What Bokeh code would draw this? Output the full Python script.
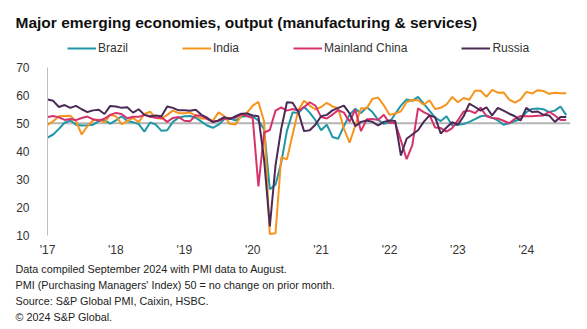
from bokeh.plotting import figure
from bokeh.models import Range1d, FixedTicker, Span, Title, Legend, LegendItem, ColumnDataSource
from bokeh.embed import file_html
from bokeh.resources import INLINE

# Monthly composite PMI, Jan 2017 .. Aug 2024 (92 months)
brazil = [44.9, 46.0, 48.0, 50.2, 51.0, 49.5, 49.2, 49.3, 49.5, 50.8, 51.1, 49.9,
          51.0, 52.5, 50.8, 50.4, 49.7, 47.0, 50.3, 49.5, 47.3, 47.5, 50.5, 52.0,
          52.5, 52.6, 52.0, 50.6, 49.2, 48.4, 49.5, 51.4, 51.8, 51.0, 52.3, 52.6,
          52.5, 50.9, 47.9, 26.5, 28.1, 35.9, 47.3, 53.9, 53.6, 55.9, 53.8, 51.1,
          47.5, 49.5, 45.1, 44.5, 49.0, 53.1, 55.2, 53.6, 55.7, 54.0, 51.2, 49.8,
          50.3, 53.4, 56.3, 58.5, 58.0, 59.4, 57.0, 54.5, 52.0, 50.8, 52.5, 49.2,
          49.5, 49.7, 50.5, 51.5, 52.5, 52.8, 52.0, 51.0, 49.5, 50.0, 50.8, 51.5,
          54.0, 55.1, 55.3, 55.0, 54.0, 54.5, 56.0, 52.9]
india = [49.4, 50.7, 52.5, 52.6, 52.7, 50.7, 46.0, 49.0, 51.1, 51.3, 50.3, 53.0,
         52.5, 49.7, 50.8, 51.9, 50.4, 53.3, 54.1, 51.9, 51.6, 53.0, 54.5, 53.6,
         53.6, 53.8, 52.7, 51.7, 51.7, 50.8, 53.9, 52.6, 49.8, 49.6, 52.7, 53.7,
         56.3, 57.6, 50.6, 10.5, 10.8, 37.8, 37.2, 46.0, 54.6, 58.0, 56.3, 54.9,
         55.8, 57.3, 56.0, 55.4, 48.1, 43.1, 49.2, 55.4, 55.3, 58.7, 59.2, 56.4,
         53.0, 53.5, 54.3, 57.6, 58.3, 58.2, 56.6, 58.2, 55.1, 55.5, 56.7, 59.4,
         57.5, 59.0, 58.4, 61.6, 61.6, 59.4, 61.9, 60.9, 61.0, 58.4, 57.4, 58.5,
         61.2, 60.6, 61.8, 61.5, 60.5, 60.9, 60.7, 60.7]
china = [52.2, 52.6, 52.1, 51.2, 51.5, 51.1, 51.9, 52.4, 51.4, 51.0, 51.6, 53.0,
         53.7, 53.3, 51.8, 52.3, 52.3, 53.0, 52.3, 52.0, 52.1, 50.5, 51.9, 52.2,
         50.9, 50.7, 52.9, 52.7, 51.5, 50.6, 50.9, 51.6, 51.9, 52.0, 53.2, 52.6,
         51.9, 27.5, 46.7, 47.6, 54.5, 55.7, 54.5, 55.1, 54.5, 55.7, 57.5, 56.3,
         52.2, 51.7, 53.1, 54.7, 53.8, 50.6, 54.9, 47.2, 51.4, 51.5, 51.2, 53.0,
         50.1, 50.1, 43.9, 37.2, 42.2, 55.3, 54.0, 53.0, 48.5, 48.3, 47.0, 48.3,
         51.1, 54.2, 54.5, 53.6, 55.6, 52.5, 51.9, 51.7, 50.9, 50.0, 51.6, 52.6,
         52.5, 52.5, 52.7, 52.8, 54.1, 52.8, 51.2, 51.2]
russia = [58.5, 58.0, 55.8, 56.5, 55.5, 56.2, 55.0, 54.0, 54.6, 54.8, 53.3, 56.2,
          56.0, 55.5, 55.7, 53.8, 55.0, 53.0, 52.5, 52.8, 52.5, 56.0, 55.5, 54.6,
          54.6, 54.5, 54.8, 53.0, 52.0, 50.4, 51.0, 52.2, 51.5, 52.5, 53.4, 53.5,
          52.8, 52.5, 37.0, 13.2, 35.0, 48.0, 57.5, 57.3, 54.0, 47.2, 47.5, 49.5,
          52.5, 53.0, 54.6, 55.5, 56.3, 53.5, 49.0, 50.5, 51.0, 50.5, 49.2, 50.5,
          51.0, 50.8, 38.5, 44.5, 46.0, 47.5, 50.5, 52.8, 52.2, 46.3, 48.5, 50.4,
          49.5, 52.5, 57.0, 55.8, 54.5, 55.7, 52.8, 55.5, 54.5, 53.4, 52.5, 51.0,
          55.5, 54.0, 54.2, 53.0, 52.8, 50.5, 52.2, 52.2]

series_names = ["Brazil", "India", "Mainland China", "Russia"]
series_colors = ["#1f97a6", "#f7941d", "#d6336c", "#4b2a55"]
year_ticks = [0, 12, 24, 36, 48, 60, 72, 84]
year_labels = ["'17", "'18", "'19", "'20", "'21", "'22", "'23", "'24"]
y_ticks = [10, 20, 30, 40, 50, 60, 70]

title_text = "Major emerging economies, output (manufacturing & services)"
notes = ["Data compiled September 2024 with PMI data to August.",
         "PMI (Purchasing Managers' Index) 50 = no change on prior month.",
         "Source: S&P Global PMI, Caixin, HSBC.",
         "\u00a9 2024 S&P Global."]

months = list(range(len(brazil)))
FONT = "Liberation Sans"

p = figure(width=587, height=329, output_backend="svg", toolbar_location=None,
           x_range=Range1d(0, 91.75), y_range=Range1d(10, 82.0),
           min_border_left=47, min_border_right=17, min_border_top=33, min_border_bottom=94)
p.outline_line_color = None
p.xgrid.grid_line_color = None
p.ygrid.grid_line_color = None
p.background_fill_color = "white"
p.border_fill_color = "white"

p.title = Title(text=title_text, align="left", offset=-32, text_font=FONT,
                text_font_size="15.5px", text_font_style="bold", text_color="#111111",
                standoff=6)

p.add_layout(Span(location=50, dimension="width", line_color="#b4b4b4", line_width=2, level="underlay"))

renderers = []
for name, col, data in zip(series_names, series_colors, [brazil, india, china, russia]):
    src = ColumnDataSource(dict(x=months, y=data))
    r = p.line("x", "y", source=src, line_color=col, line_width=2)
    renderers.append(r)

legend = Legend(items=[LegendItem(label=n, renderers=[r]) for n, r in zip(series_names, renderers)],
                orientation="horizontal", location=(20, 180), spacing=54, glyph_width=29,
                glyph_height=12, label_standoff=2, padding=0, margin=0,
                border_line_color=None, background_fill_alpha=0,
                label_text_font=FONT, label_text_font_size="12px", label_text_color="#333333",
                label_height=14)
p.add_layout(legend, "center")

p.xaxis.ticker = FixedTicker(ticks=year_ticks)
p.xaxis.major_label_overrides = {t: l for t, l in zip(year_ticks, year_labels)}
p.xaxis.axis_line_color = None
p.xaxis.major_tick_line_color = None
p.xaxis.minor_tick_line_color = None
p.xaxis.major_label_standoff = 1
p.xaxis.major_label_text_font = FONT
p.xaxis.major_label_text_font_size = "12px"
p.xaxis.major_label_text_color = "#333333"

p.yaxis.ticker = FixedTicker(ticks=y_ticks)
p.yaxis.bounds = (10, 70)
p.yaxis.axis_line_color = "#bdbdbd"
p.yaxis.axis_line_width = 1
p.yaxis.major_tick_line_color = None
p.yaxis.minor_tick_line_color = None
p.yaxis.major_label_standoff = 12
p.yaxis.major_label_text_font = FONT
p.yaxis.major_label_text_font_size = "12px"
p.yaxis.major_label_text_color = "#333333"

for t in notes:
    p.add_layout(Title(text=t, align="left", offset=-32, text_font=FONT,
                       text_font_size="10.8px", text_font_style="normal",
                       text_color="#222222", standoff=1.7), "below")

open("out.html", "w").write(file_html(p, INLINE))
